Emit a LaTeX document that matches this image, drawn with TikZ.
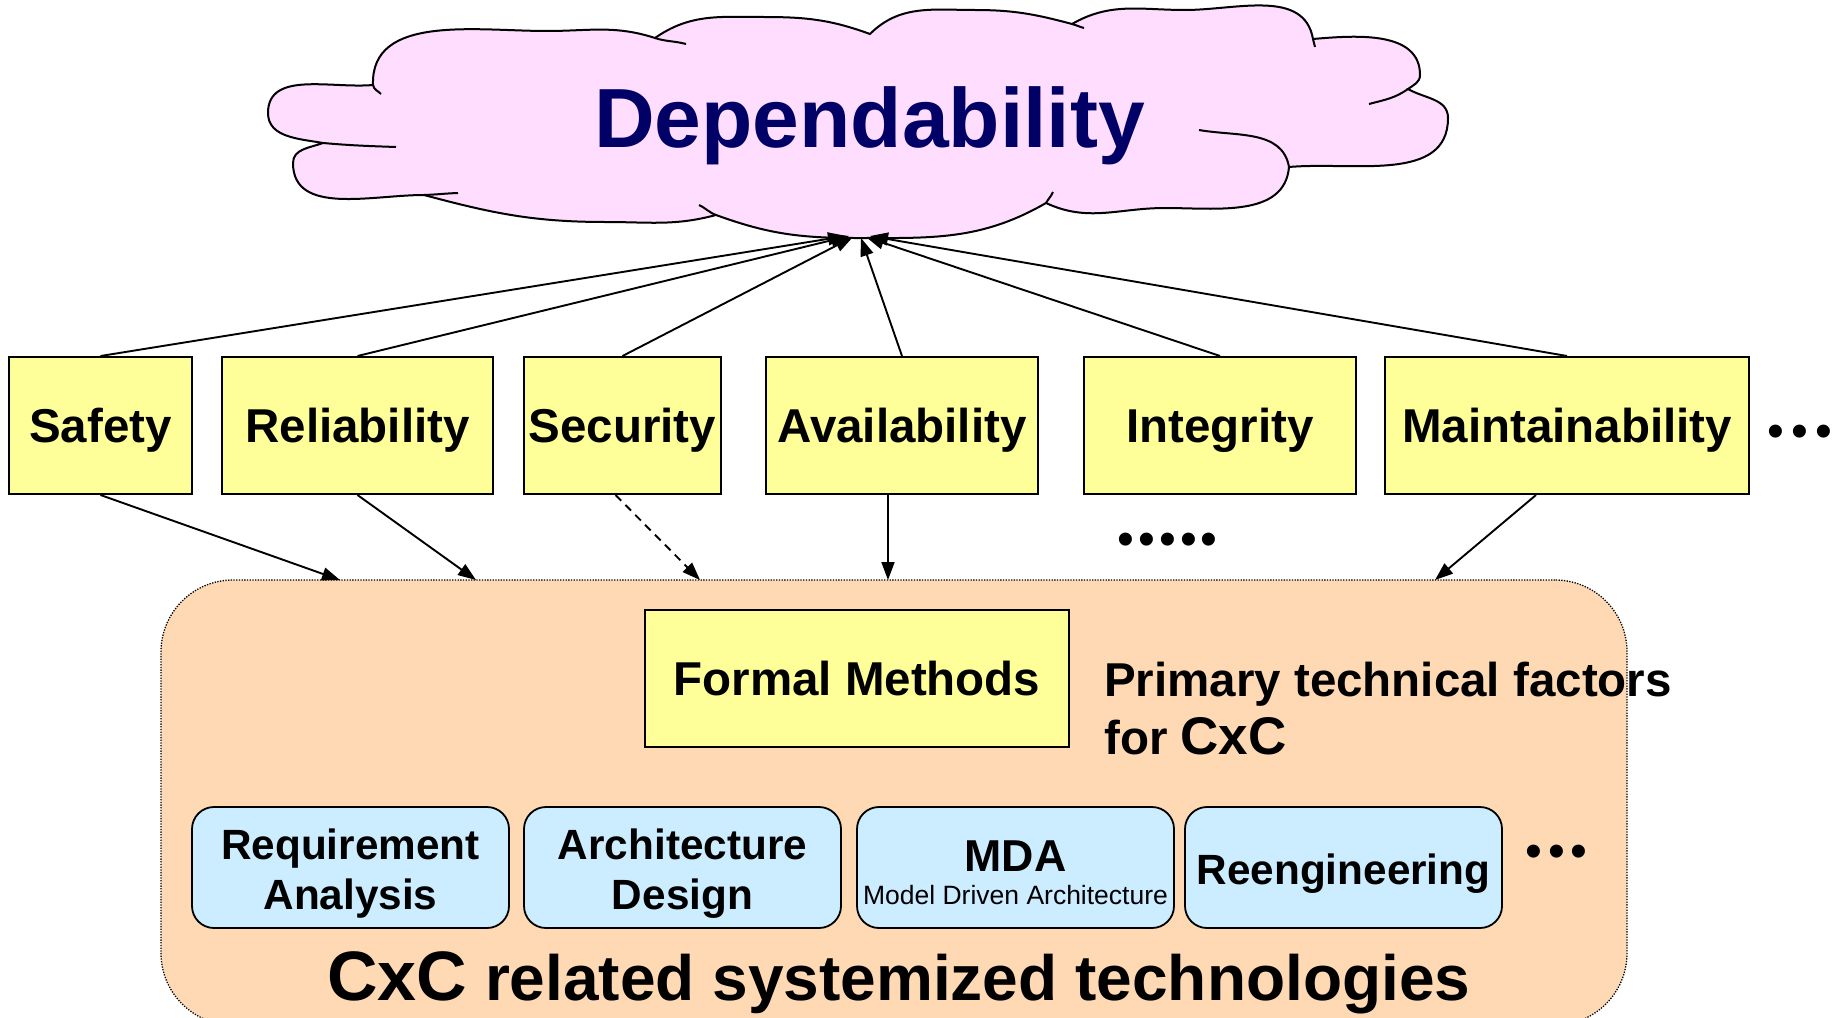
\documentclass[tikz,border=0pt]{standalone}
\usepackage{fontspec}
\setmainfont{Liberation Sans}
\usetikzlibrary{arrows.meta,calc}

\definecolor{cloudpink}{HTML}{FFDDFF}
\definecolor{navyblue}{HTML}{000066}
\definecolor{factoryellow}{HTML}{FFFF99}
\definecolor{techpeach}{HTML}{FFD9B4}
\definecolor{techblue}{HTML}{CCECFF}

\begin{document}
\begin{tikzpicture}[x=1pt,y=1pt,
  factor/.style={draw=black, line width=2pt, fill=factoryellow,
    minimum height=137pt, inner sep=0pt,
    font=\fontsize{47.5}{57}\selectfont\bfseries,
    text height=34pt, text depth=0pt},
  techbox/.style={draw=black, line width=1.8pt, fill=techblue,
    rounded corners=22pt, minimum width=317pt, minimum height=121pt,
    inner sep=0pt},
  techlabel/.style={anchor=base, inner sep=0pt,
    font=\fontsize{42.3}{50}\selectfont\bfseries},
  bigbox/.style={draw=black, line width=1.3pt,
    dash pattern=on 1.3pt off 1.4pt, fill=techpeach,
    rounded corners=72pt, inner sep=0pt},
  link/.style={line width=1.9pt, -{Triangle[length=18pt,width=13pt]}},
  cloudline/.style={draw=black, line width=2pt},
  dots/.style={anchor=base west, inner sep=0pt,
    font=\fontsize{48}{48}\selectfont}
]
\useasboundingbox (0,0) rectangle (1833,-1017);
\clip (0,0) rectangle (1833,-1017);

% cloud outline
\path[cloudline, fill=cloudpink]
  (373,-85) to[out=92,in=180] (547,-31)
  to[out=0,in=162] (655,-38)
  to[out=35,in=180] (764,-17)
  to[out=0,in=160] (870,-34)
  to[out=45,in=180] (975,-10)
  to[out=0,in=165] (1072,-24)
  to[out=30,in=180] (1185,-10)
  to[out=0,in=100] (1313,-39)
  to[out=5,in=90] (1420,-75)
  to[out=270,in=35] (1408,-89)
  to[out=-30,in=90] (1448,-118)
  to[out=270,in=5] (1289,-167)
  to[out=-95,in=0] (1165,-208)
  to[out=180,in=-25] (1046,-203)
  to[out=-150,in=0] (855,-238)
  to[out=180,in=-20] (716,-215)
  to[out=-165,in=0] (606,-222)
  to[out=180,in=-15] (424,-195)
  to[out=180,in=-90] (293,-163)
  to[out=90,in=-160] (323,-143)
  to[out=170,in=-90] (268,-113)
  to[out=90,in=185] (373,-85)
  -- cycle;
% inner ends of the puffs
\draw[cloudline] (373,-85) to[out=-80,in=135] (381,-94);
\draw[cloudline] (655,-38) to[out=-18,in=165] (686,-44);
\draw[cloudline] (1072,-24) to[out=-15,in=165] (1084,-28);
\draw[cloudline] (1313,-39) to[out=-80,in=100] (1315,-47);
\draw[cloudline] (1408,-89) to[out=215,in=15] (1369,-104);
\draw[cloudline] (1289,-167) to[out=100,in=-10] (1199,-130);
\draw[cloudline] (1046,-203) to[out=60,in=-115] (1053,-192);
\draw[cloudline] (716,-215) to[out=160,in=-25] (699,-205);
\draw[cloudline] (424,-195) to[out=2,in=182] (458,-193);
\draw[cloudline] (323,-143) to[out=-5,in=178] (396,-147);

\node[anchor=base, inner sep=0pt, text=navyblue,
      font=\fontsize{84}{100}\selectfont\bfseries] (dep) at (869.5,-147) {Dependability};

% dependability factors
\node[factor, minimum width=183pt] (safety) at (100.5,-425.5) {Safety};
\node[factor, minimum width=271pt] (reliab) at (357.5,-425.5) {Reliability};
\node[factor, minimum width=197pt] (secur)  at (622.5,-425.5) {Security};
\node[factor, minimum width=272pt] (avail)  at (902,-425.5) {Availability};
\node[factor, minimum width=272pt] (integ)  at (1220,-425.5) {Integrity};
\node[factor, minimum width=364pt] (maint)  at (1567,-425.5) {Maintainability};
\node[dots] (morefactors) at (1767.6,-447.2) {•\kern7.2pt•\kern7.2pt•};
\node[dots] (moredots) at (1117.6,-555.5) {•\kern3.95pt•\kern3.95pt•\kern3.95pt•\kern3.95pt•};

% arrow tips under the cloud
\coordinate (d1) at (846,-236);
\coordinate (d2) at (849,-236);
\coordinate (d3) at (853,-237);
\coordinate (d4) at (861,-238);
\coordinate (d5) at (866,-237);
\coordinate (d6) at (870,-236);
\draw[link] (safety.north) -- (d1);
\draw[link] (reliab.north) -- (d2);
\draw[link] (secur.north) -- (d3);
\draw[link] (avail.north) -- (d4);
\draw[link] (integ.north) -- (d5);
\draw[link] (maint.north) -- (d6);

% CxC technologies
\node[bigbox, minimum width=1466pt, minimum height=445pt] (tech) at (894,-802.5) {};

\coordinate (u1) at (340,-580);
\coordinate (u2) at (476,-580);
\coordinate (u3) at (700,-580);
\coordinate (u4) at (888,-580);
\coordinate (u5) at (1435,-580);
\draw[link] (safety.south) -- (u1);
\draw[link] (reliab.south) -- (u2);
\draw[link, dash pattern=on 8pt off 6pt] ([xshift=-7pt]secur.south) -- (u3);
\draw[link] ([xshift=-14pt]avail.south) -- (u4);
\draw[link] ([xshift=-31pt]maint.south) -- (u5);

\node[factor, minimum width=424pt] (formal) at (857,-678) {Formal Methods};
\node[anchor=base west, inner sep=0pt, font=\fontsize{47.5}{57}\selectfont\bfseries]
  (primary) at (1104,-696) {Primary technical factors};
\node[anchor=base west, inner sep=0pt, font=\fontsize{47.5}{57}\selectfont\bfseries]
  (forcxc) at (1104,-754) {for {\fontsize{53}{60}\selectfont CxC}};

\node[techbox] (req)   at (350.5,-867.5) {};
\node[techbox] (arch)  at (682.5,-867.5) {};
\node[techbox] (mda)   at (1015.5,-867.5) {};
\node[techbox] (reeng) at (1343.5,-867.5) {};

\node[techlabel] (reqa) at ([yshift=8.5pt]req.center) {Requirement};
\node[techlabel] (reqb) at ([yshift=-41.5pt]req.center) {Analysis};
\node[techlabel] (archa) at ([yshift=8.5pt]arch.center) {Architecture};
\node[techlabel] (archb) at ([yshift=-41.5pt]arch.center) {Design};
\node[techlabel, font=\fontsize{44.7}{50}\selectfont\bfseries] (mdaa) at ([yshift=-3.5pt]mda.center) {MDA};
\node[techlabel, font=\fontsize{26.5}{30}\selectfont] (mdab) at ([yshift=-36.5pt]mda.center) {Model Driven Architecture};
\node[techlabel] (reenga) at ([yshift=-16.5pt]reeng.center) {Reengineering};
\node[dots] (moretech) at (1525.6,-867.5) {•\kern5.7pt•\kern5.7pt•};

\node[anchor=base west, inner sep=0pt, font=\fontsize{64}{70}\selectfont\bfseries]
  (techtitle) at (327,-1000) {{\fontsize{70}{70}\selectfont CxC} related systemized technologies};
\end{tikzpicture}
\end{document}
